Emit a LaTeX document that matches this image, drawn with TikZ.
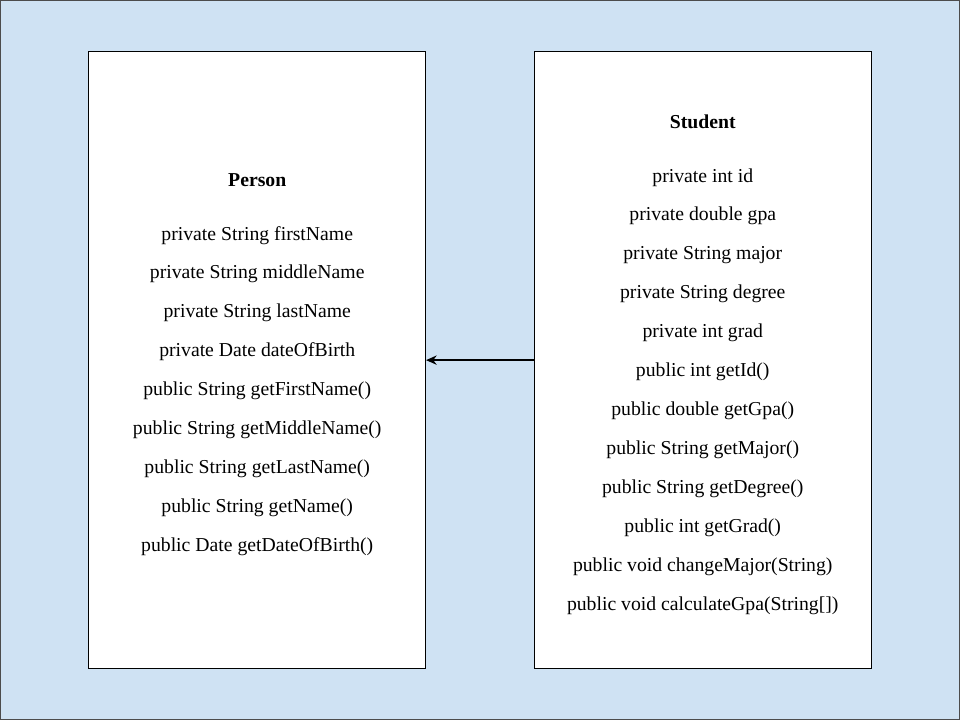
\documentclass[tikz,border=0pt]{standalone}
\usepackage{fontspec}
\setmainfont{Liberation Serif}
\usetikzlibrary{arrows.meta}
\definecolor{bgblue}{HTML}{CFE2F3}
\tikzset{
  classbox/.style={draw=black, fill=white, line width=0.75pt},
  member/.style={font=\fontsize{14.8}{17}\selectfont, anchor=center, inner sep=0pt},
  title/.style={font=\fontsize{14.8}{17}\selectfont\bfseries, anchor=center, inner sep=0pt},
  inherit/.style={-{Stealth[length=8pt,width=7pt]}, line width=1.1pt}
}
\begin{document}
\begin{tikzpicture}[x=0.75pt,y=-0.75pt]
\fill[bgblue, draw=black!70, line width=0.75pt] (0,0) rectangle (960,720);
\useasboundingbox (0,0) rectangle (960,720);
\node[classbox, minimum width=337*0.75pt, minimum height=617*0.75pt, anchor=north west] (person) at (88,51) {};
\node[classbox, minimum width=337*0.75pt, minimum height=617*0.75pt, anchor=north west] (student) at (534,51) {};
\node[title] (pt) at (257,180) {Person};
\foreach \t [count=\i] in {private String firstName, private String middleName, private String lastName, private Date dateOfBirth, public String getFirstName(), public String getMiddleName(), public String getLastName(), public String getName(), public Date getDateOfBirth()} {
  \node[member] (p\i) at (257,196+39*\i) {\t};
}
\node[title] (st) at (703,121) {Student};
\foreach \t [count=\i] in {private int id, private double gpa, private String major, private String degree, private int grad, public int getId(), public double getGpa(), public String getMajor(), public String getDegree(), public int getGrad(), public void changeMajor(String), public void calculateGpa(String{[]})} {
  \node[member] (s\i) at (703,138+39*\i) {\t};
}
\coordinate (a1) at (student.west |- 0,360);
\coordinate (a2) at (person.east |- 0,360);
\draw[inherit] (a1) -- (a2);
\end{tikzpicture}
\end{document}
